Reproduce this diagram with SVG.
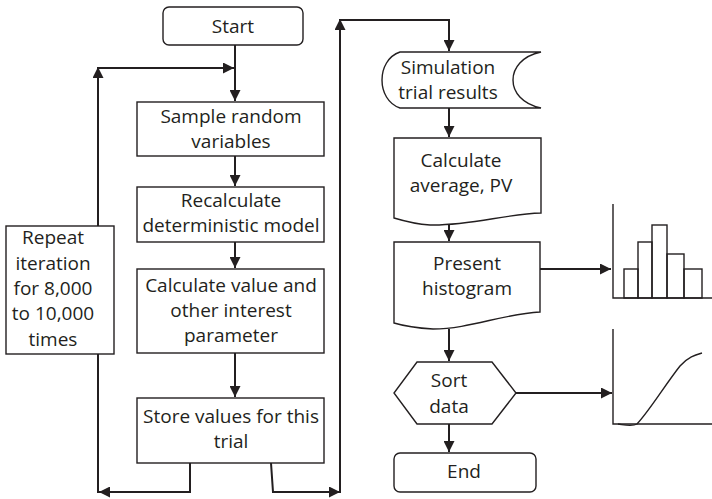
<svg xmlns="http://www.w3.org/2000/svg" width="712" height="499" viewBox="0 0 712 499">
  <style>
    .box { fill: #fff; stroke: #231f20; stroke-width: 1.4; }
    .wire { fill: none; stroke: #231f20; stroke-width: 2; }
    .thin { fill: none; stroke: #231f20; stroke-width: 1.4; }
    text { font-family: "Open Sans", "Noto Sans", sans-serif; font-size: 19px; fill: #231f20; text-anchor: middle; }
  </style>
  <defs>
    <marker id="ah" viewBox="0 0 10 10" refX="10" refY="5" markerWidth="5.5" markerHeight="5.5" markerUnits="strokeWidth" orient="auto">
      <path d="M0,0 L10,5 L0,10 Z" fill="#231f20"/>
    </marker>
  </defs>

  <!-- connectors -->
  <g id="connectors">
    <line class="wire" x1="235" y1="45" x2="235" y2="101" marker-end="url(#ah)"/>
    <polyline class="wire" points="98,226 98,68 234,68" marker-end="url(#ah)"/>
    <line class="wire" x1="98" y1="80" x2="98" y2="67" marker-end="url(#ah)"/>
    <line class="wire" x1="235" y1="156" x2="235" y2="186" marker-end="url(#ah)"/>
    <line class="wire" x1="235" y1="242" x2="235" y2="268" marker-end="url(#ah)"/>
    <line class="wire" x1="235" y1="353" x2="235" y2="397" marker-end="url(#ah)"/>
    <polyline class="wire" points="190,463 190,492 99,492" marker-end="url(#ah)"/>
    <line class="wire" x1="98" y1="354" x2="98" y2="493"/>
    <polyline class="wire" points="271,463 273,492 340,492" marker-end="url(#ah)"/>
    <polyline class="wire" points="340,493 340,20 449,20 449,51" marker-end="url(#ah)"/>
    <line class="wire" x1="340" y1="30" x2="340" y2="19" marker-end="url(#ah)"/>
    <line class="wire" x1="449" y1="108" x2="449" y2="137" marker-end="url(#ah)"/>
    <line class="wire" x1="449" y1="224" x2="449" y2="241" marker-end="url(#ah)"/>
    <line class="wire" x1="449" y1="329" x2="449" y2="361" marker-end="url(#ah)"/>
    <line class="wire" x1="449" y1="424" x2="449" y2="452" marker-end="url(#ah)"/>
    <line class="wire" x1="540" y1="269" x2="611" y2="269" marker-end="url(#ah)"/>
    <line class="wire" x1="516" y1="393" x2="612" y2="393" marker-end="url(#ah)"/>
  </g>

  <g id="start">
    <rect class="box" x="163" y="7" width="140" height="38" rx="6"/>
    <text x="233" y="33">Start</text>
  </g>
  <g id="sample">
    <rect class="box" x="137" y="102" width="187" height="54"/>
    <text x="231" y="123">Sample random</text>
    <text x="231" y="148">variables</text>
  </g>
  <g id="recalculate">
    <rect class="box" x="137" y="187" width="187" height="55"/>
    <text x="231" y="207">Recalculate</text>
    <text x="231" y="232">deterministic model</text>
  </g>
  <g id="calculate-value">
    <rect class="box" x="137" y="269" width="187" height="84"/>
    <text x="231" y="292">Calculate value and</text>
    <text x="231" y="317">other interest</text>
    <text x="231" y="342">parameter</text>
  </g>
  <g id="store">
    <rect class="box" x="137" y="398" width="187" height="65"/>
    <text x="231" y="423">Store values for this</text>
    <text x="231" y="448">trial</text>
  </g>
  <g id="repeat">
    <rect class="box" x="6" y="226" width="108" height="128"/>
    <text x="53" y="244">Repeat</text>
    <text x="53" y="270">iteration</text>
    <text x="53" y="295">for 8,000</text>
    <text x="53" y="320">to 10,000</text>
    <text x="53" y="346">times</text>
  </g>

  <g id="simulation-results">
    <path class="box" d="M400,52 H541 C522,56 513,68 513,80 C513,92 522,104 541,108 H400 C388,104 382,92 382,80 C382,68 388,56 400,52 Z"/>
    <text x="448" y="74">Simulation</text>
    <text x="448" y="99">trial results</text>
  </g>
  <g id="calculate-average">
    <path class="box" d="M394,138 H541 V213 C505,214 470,226 430,225 C414,224 404,221 394,218 Z"/>
    <text x="461" y="167">Calculate</text>
    <text x="461" y="192">average, PV</text>
  </g>
  <g id="present-histogram">
    <path class="box" d="M394,242 H540 V312 C502,314 470,329 433,329 C416,328 404,326 394,323 Z"/>
    <text x="467" y="270">Present</text>
    <text x="467" y="295">histogram</text>
  </g>
  <g id="sort-data">
    <path class="box" d="M417,362 H492 L516,393 L492,424 H417 L394,393 Z"/>
    <text x="449" y="387">Sort</text>
    <text x="449" y="413">data</text>
  </g>
  <g id="end">
    <rect class="box" x="394" y="453" width="142" height="39" rx="6"/>
    <text x="464" y="478">End</text>
  </g>

  <!-- histogram chart -->
  <g id="histogram">
    <polyline class="thin" points="613,204 613,298 712,298"/>
    <rect class="thin" x="624" y="269" width="14" height="29"/>
    <rect class="thin" x="638" y="242" width="14" height="56"/>
    <rect class="thin" x="652" y="225" width="15" height="73"/>
    <rect class="thin" x="667" y="254" width="17" height="44"/>
    <rect class="thin" x="684" y="269" width="18" height="29"/>
  </g>

  <!-- cumulative curve chart -->
  <g id="cumulative">
    <polyline class="thin" points="613,329 613,424 712,424"/>
    <path class="thin" d="M618,424 C625,425 632,427 637,424 C650,410 665,385 680,366 C688,357 695,355 702,353"/>
  </g>
</svg>
